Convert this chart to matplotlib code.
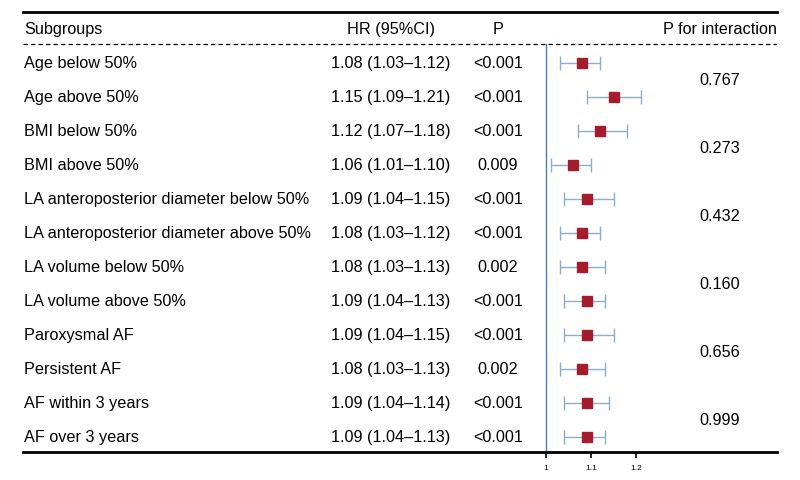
import numpy as np
import matplotlib.pyplot as plt
from matplotlib.transforms import blended_transform_factory

plt.rcParams['font.family'] = ['Liberation Sans', 'DejaVu Sans']

# Data
subgroups = ["Age below 50%", "Age above 50%", "BMI below 50%", "BMI above 50%",
             "LA anteroposterior diameter below 50%", "LA anteroposterior diameter above 50%",
             "LA volume below 50%", "LA volume above 50%",
             "Paroxysmal AF", "Persistent AF", "AF within 3 years", "AF over 3 years"]
hr = np.array([1.08, 1.15, 1.12, 1.06, 1.09, 1.08, 1.08, 1.09, 1.09, 1.08, 1.09, 1.09])
lo = np.array([1.03, 1.09, 1.07, 1.01, 1.04, 1.03, 1.03, 1.04, 1.04, 1.03, 1.04, 1.04])
hi = np.array([1.12, 1.21, 1.18, 1.10, 1.15, 1.12, 1.13, 1.13, 1.15, 1.13, 1.14, 1.13])
pvals = ["<0.001", "<0.001", "<0.001", "0.009", "<0.001", "<0.001",
         "0.002", "<0.001", "<0.001", "0.002", "<0.001", "<0.001"]
p_inter = ["0.767", "0.273", "0.432", "0.160", "0.656", "0.999"]
xticks = [1, 1.1, 1.2]

red = "#A51C2C"
ci_col = "#8DAECA"
ref_col = "#4A7DAE"

fig = plt.figure(figsize=(8, 4.8), dpi=100)
# axes spans the full table width; x in HR units
ax = fig.add_axes([23/800, 1-452/480, 754/800, 440/480])
ax.set_xlim(1-523/450, 1+231/450)
ax.set_ylim(11.44, -1.5)

rows = np.arange(len(subgroups))
ax.errorbar(hr, rows, xerr=[hr-lo, hi-hr], fmt='none', ecolor=ci_col,
            elinewidth=1.0, capsize=4.7, capthick=1.0, zorder=2)
ax.plot(hr, rows, 's', color=red, markersize=6.6, zorder=3)
ax.plot([1, 1], [-0.56, 11.44], color=ref_col, lw=1.0, zorder=1)

# table lines
ax.axhline(-0.56, color='black', lw=0.9, ls=(0, (3.5, 2.5)))
for side in ['left', 'right']:
    ax.spines[side].set_visible(False)
ax.spines['top'].set_linewidth(2)
ax.spines['bottom'].set_linewidth(2)

ax.set_yticks([])
ax.set_xticks(xticks)
ax.set_xticklabels(["1", "1.1", "1.2"], fontsize=6)
ax.tick_params(axis='x', length=4, width=1.2, pad=5)

# text columns, x in figure pixels
tr = blended_transform_factory(fig.transFigure, ax.transData)
fs = 11.7
ax.text(24/800, -1, "Subgroups", transform=tr, ha='left', va='center', fontsize=fs)
ax.text(391/800, -1, "HR (95%CI)", transform=tr, ha='center', va='center', fontsize=fs)
ax.text(498/800, -1, "P", transform=tr, ha='center', va='center', fontsize=fs)
ax.text(777/800, -1, "P for interaction", transform=tr, ha='right', va='center', fontsize=fs)

for i, name in enumerate(subgroups):
    ax.text(24/800, i, name, transform=tr, ha='left', va='center', fontsize=fs)
    ax.text(391/800, i, f"{hr[i]:.2f} ({lo[i]:.2f}\u2013{hi[i]:.2f})", transform=tr,
            ha='center', va='center', fontsize=fs)
    ax.text(498/800, i, pvals[i], transform=tr, ha='center', va='center', fontsize=fs)

for k, pv in enumerate(p_inter):
    ax.text(720/800, 2*k+0.5, pv, transform=tr, ha='center', va='center', fontsize=fs)

fig.savefig("out.png", dpi=100)
